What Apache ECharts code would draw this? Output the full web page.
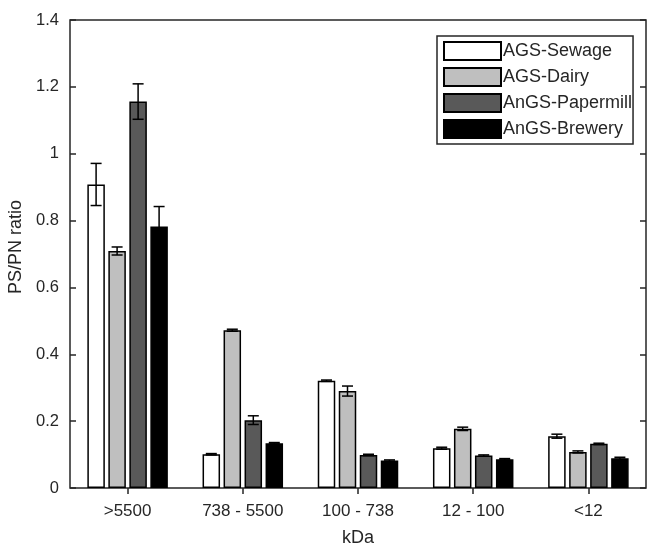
<!DOCTYPE html>
<html>
<head>
<meta charset="utf-8">
<script src="https://cdn.jsdelivr.net/npm/echarts@6/dist/echarts.min.js"></script>
<style>
  html, body { margin: 0; padding: 0; background: #fff; }
  #chart { width: 648px; height: 546px; }
</style>
</head>
<body>
<div id="chart"></div>
<script>
// categories (kDa fractions) and series
var categories = ['>5500', '738 - 5500', '100 - 738', '12 - 100', '<12'];
var seriesNames = ['AGS-Sewage', 'AGS-Dairy', 'AnGS-Papermill', 'AnGS-Brewery'];

// PS/PN ratio
var sewage    = [0.908, 0.101, 0.321, 0.119, 0.155];
var dairy     = [0.709, 0.472, 0.290, 0.177, 0.108];
var papermill = [1.156, 0.203, 0.099, 0.097, 0.132];
var brewery   = [0.782, 0.134, 0.082, 0.086, 0.089];

// error (+/-)
var errSewage    = [0.063, 0.002, 0.002, 0.003, 0.006];
var errDairy     = [0.012, 0.003, 0.015, 0.005, 0.003];
var errPapermill = [0.053, 0.013, 0.002, 0.002, 0.002];
var errBrewery   = [0.060, 0.002, 0.002, 0.002, 0.003];

var yTicks = [0, 0.2, 0.4, 0.6, 0.8, 1, 1.2, 1.4];

var values = [sewage, dairy, papermill, brewery];
var errors = [errSewage, errDairy, errPapermill, errBrewery];
var colors = ['#ffffff', '#bfbfbf', '#595959', '#000000'];

var chart = echarts.init(document.getElementById('chart'));
var font = 'Liberation Sans, Arial, sans-serif';
var txt = '#262626';
var barW = 17.5, barGapPct = 0.2;
var step = barW * (1 + barGapPct);

var series = [];
values.forEach(function (v, i) {
    series.push({
        name: seriesNames[i],
        type: 'bar',
        data: v,
        barWidth: barW,
        barGap: (barGapPct * 100) + '%',
        itemStyle: { color: colors[i], borderColor: '#000', borderWidth: 1.5 },
        z: 2
    });
});
// error bars
values.forEach(function (v, i) {
    var d = v.map(function (val, k) { return [k, val, errors[i][k]]; });
    series.push({
        type: 'custom',
        z: 5,
        silent: true,
        data: d,
        encode: { x: 0, y: 1 },
        renderItem: function (params, api) {
            var k = api.value(0), val = api.value(1), e = api.value(2);
            var off = (i - 1.5) * step;
            var hi = api.coord([k, val + e]);
            var lo = api.coord([k, val - e]);
            var x = hi[0] + off, cap = 5.5;
            var st = { stroke: '#000', lineWidth: 1.5 };
            return {
                type: 'group',
                children: [
                    { type: 'line', shape: { x1: x, y1: hi[1], x2: x, y2: lo[1] }, style: st },
                    { type: 'line', shape: { x1: x - cap, y1: hi[1], x2: x + cap, y2: hi[1] }, style: st },
                    { type: 'line', shape: { x1: x - cap, y1: lo[1], x2: x + cap, y2: lo[1] }, style: st }
                ]
            };
        }
    });
});

chart.setOption({
    animation: false,
    backgroundColor: '#fff',
    textStyle: { fontFamily: font },
    grid: {
        left: 70, right: 2, top: 20, bottom: 58,
        outerBoundsMode: 'none',
        show: true, borderColor: txt, borderWidth: 1.5, backgroundColor: 'transparent'
    },
    legend: {
        data: seriesNames,
        orient: 'vertical',
        left: 437,
        top: 36,
        padding: [5, 1, 5, 6],
        itemWidth: 57,
        itemHeight: 18,
        itemGap: 6,
        icon: 'rect',
        borderColor: txt,
        borderWidth: 1.5,
        backgroundColor: '#fff',
        textStyle: { fontFamily: font, fontSize: 18, color: txt, padding: [0, 0, 0, -3] }
    },
    xAxis: [{
        type: 'category',
        data: categories,
        name: 'kDa',
        nameLocation: 'middle',
        nameGap: 41,
        nameTextStyle: { fontSize: 18, color: txt, fontFamily: font },
        axisLine: { show: false },
        axisTick: { show: false },
        axisLabel: { fontSize: 17, color: txt, margin: 15, fontFamily: font }
    }, {
        type: 'category',
        data: categories,
        position: 'top',
        axisLine: { show: false },
        axisTick: { show: true, inside: true, alignWithLabel: true, length: 6, lineStyle: { color: txt, width: 1.5 } },
        axisLabel: { show: false }
    }],
    yAxis: [{
        type: 'value',
        min: yTicks[0],
        max: yTicks[yTicks.length - 1],
        interval: 0.2,
        name: 'PS/PN ratio',
        nameLocation: 'middle',
        nameGap: 37,
        nameTextStyle: { fontSize: 18, color: txt, fontFamily: font, padding: [0, 0, 0, 14] },
        axisLine: { show: false },
        axisTick: { show: true, inside: true, length: 6, lineStyle: { color: txt, width: 1.5 } },
        axisLabel: { fontSize: 16.5, color: txt, margin: 11, fontFamily: font },
        splitLine: { show: false }
    }, {
        type: 'value',
        position: 'right',
        min: yTicks[0],
        max: yTicks[yTicks.length - 1],
        interval: 0.2,
        axisLine: { show: false },
        axisTick: { show: true, inside: true, length: 6, lineStyle: { color: txt, width: 1.5 } },
        axisLabel: { show: false },
        splitLine: { show: false }
    }],
    series: series
});
</script>
</body>
</html>
